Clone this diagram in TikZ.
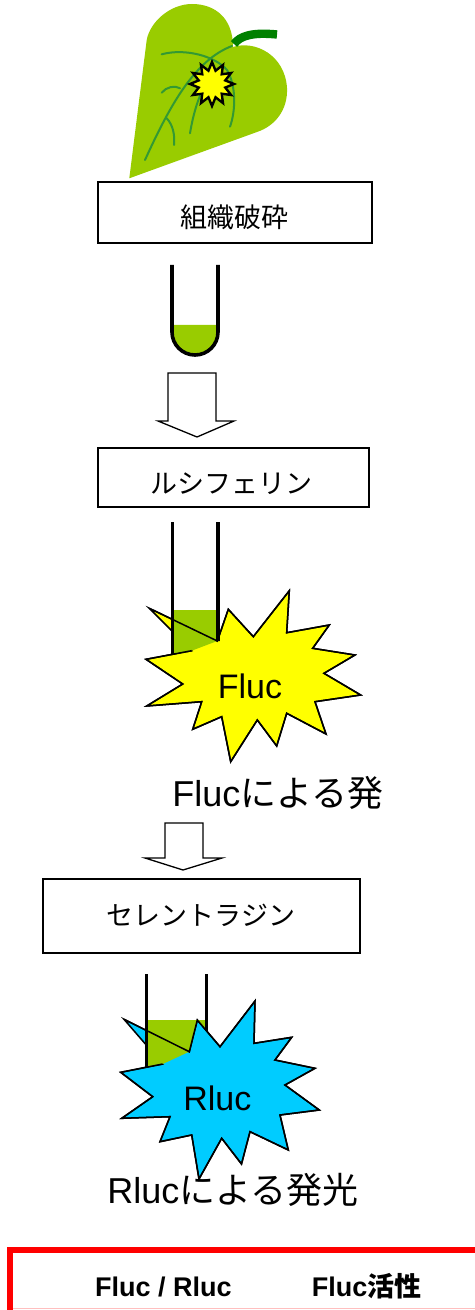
\documentclass[tikz,border=0pt]{standalone}
\usepackage{fontspec}
\setmainfont{Liberation Sans}
\newfontfamily\jp{Noto Sans CJK JP}
\usetikzlibrary{shapes.geometric}
\definecolor{leafgreen}{HTML}{99CC00}
\definecolor{stemgreen}{HTML}{008000}
\definecolor{veingreen}{HTML}{339933}
\definecolor{glowyellow}{HTML}{FFFF00}
\definecolor{glowcyan}{HTML}{00CCFF}
\tikzset{>=stealth,
  stepbox/.style={draw, line width=1pt, inner sep=0pt},
  boxtext/.style={font=\jp\fontsize{13.5pt}{14pt}\selectfont},
  bigtext/.style={font=\fontsize{18pt}{19pt}\selectfont},
  tubewall/.style={line width=1.8pt},
  hollow/.style={draw, line width=0.65pt, fill=white, line join=miter},
  vein/.style={veingreen, line width=1pt, line cap=round},
  burst/.style={line width=0.75pt, line join=miter},
}
% outlines of the two flashes, spike tip first
\def\flucburst{(149.3,608.3) -- (217.3,641) -- (228.3,609.3) -- (253.3,636.7)
  -- (289.3,590.7) -- (286.7,632.7) -- (329.3,625) -- (312.7,648.3)
  -- (355,655) -- (324,673.3) -- (360.7,695) -- (315,701.7)
  -- (326,734) -- (286.7,713.3) -- (276.7,746) -- (257.3,720)
  -- (230.7,761.7) -- (221.7,716.7) -- (192.7,729.3) -- (201.7,701.7)
  -- (146.7,706) -- (182.7,684) -- (146,659.3) -- (191.7,650.7)}
\def\rlucburst{(124,1019.3) -- (189.3,1051.7) -- (197.3,1020) -- (220,1046.7)
  -- (255,1001) -- (254,1043.3) -- (291.7,1037.3) -- (275,1060)
  -- (315,1068.3) -- (285,1085) -- (319.3,1110) -- (280,1115)
  -- (288.3,1150) -- (250,1131.7) -- (241.5,1164) -- (221.7,1138.3)
  -- (199,1179) -- (191.7,1135) -- (160,1141.7) -- (170,1116.7)
  -- (121.7,1118.3) -- (152.7,1096.7) -- (120.7,1072.3) -- (162.7,1064)}

\begin{document}
\begin{tikzpicture}[x=0.5pt, y=-0.5pt]
    \useasboundingbox (0,0) rectangle (475,1310);
    % leaf with stem and veins
    \fill[leafgreen] (129.3,178.3) -- (146.7,40) .. controls (150,22) and (170,4) .. (192,4)
        .. controls (215,4) and (233,18) .. (233,47)
        .. controls (255,40) and (285,55) .. (287,88)
        .. controls (288,110) and (275,126) .. (257,132) -- cycle;
    \draw[stemgreen, line width=4.2pt] (234,44) .. controls (240,36) and (252,32) .. (277,34.5);
    \draw[vein] (145,160) .. controls (170,105) and (195,60) .. (232,46);
    \draw[vein] (161.7,54.3) .. controls (185,48) and (215,56) .. (227,70)
        .. controls (236,85) and (236,110) .. (230,126.7);
    \draw[vein] (161.7,92.7) .. controls (166,87) and (175,85) .. (180,88.3);
    \draw[vein] (166.7,118.3) .. controls (173,125) and (175,135) .. (174,145);
    \draw[vein] (190,133.3) .. controls (193,115) and (198,98) .. (205,85);
    \node[star, star points=12, star point ratio=1.6, draw, fill=glowyellow,
        line width=1.2pt, minimum size=22pt, inner sep=0pt] (spot) at (212,84) {};

    % first step
    \node[stepbox, minimum width=137pt, minimum height=30.5pt] (crush) at (235,212.5) {};
    \node[boxtext] (crushtxt) at (234.5,217) {組織破砕};
    \fill[leafgreen] (172,325) -- (172,332) arc[start angle=180, end angle=0, radius=23] -- (218,325) -- cycle;
    \draw[tubewall] (172,265) -- (172,332) arc[start angle=180, end angle=0, radius=23] -- (218,265);
    \draw[hollow] (168,373) -- (216,373) -- (216,421) -- (234,421) -- (197,437)
        -- (158,421) -- (168,421) -- cycle;

    % luciferin
    \node[stepbox, minimum width=135.5pt, minimum height=29.5pt] (lucif) at (233.5,477.5) {};
    \node[boxtext] (luciftxt) at (231,484) {ルシフェリン};
    \filldraw[burst, fill=glowyellow] \flucburst -- cycle;
    \begin{scope}
        \clip (171,500) -- (225,500) -- (225,641) -- (217.3,641) -- (191.7,650.7) -- (171,654.6) -- cycle;
        \fill[leafgreen] (172.5,610) rectangle (218,700);
        \draw[tubewall] (172.5,522) -- (172.5,700);
        \draw[tubewall] (218,522) -- (218,700);
    \end{scope}
    \draw[burst] \flucburst;
    \node[font=\fontsize{17pt}{18pt}\selectfont] (fluc) at (250,686) {Fluc};
    \node[bigtext, anchor=base west, inner sep=0pt] (flucglow) at (172,806) {Fluc{\jp による発}};
    \draw[hollow] (165,823) -- (203,823) -- (203,858) -- (222,858) -- (183,870)
        -- (145,858) -- (165,858) -- cycle;

    % coelenterazine
    \node[stepbox, minimum width=158.5pt, minimum height=37pt] (coel) at (201.5,916) {};
    \node[boxtext] (coeltxt) at (201,915) {セレントラジン};
    \filldraw[burst, fill=glowcyan] \rlucburst -- cycle;
    \begin{scope}
        \clip (145,960) -- (210,960) -- (210,1035) -- (197.3,1020) -- (189.3,1051.7)
            -- (162.7,1064) -- (145,1067.5) -- cycle;
        \fill[leafgreen] (146,1019.5) rectangle (206.5,1080);
        \draw[tubewall] (146,974) -- (146,1080);
        \draw[tubewall] (206.5,974) -- (206.5,1080);
    \end{scope}
    \draw[burst] \rlucburst;
    \node[font=\fontsize{17pt}{18pt}\selectfont] (rluc) at (217.4,1098.7) {Rluc};
    \node[bigtext, anchor=base west, inner sep=0pt] (rlucglow) at (107,1203) {Rluc{\jp による発光}};

    % result table
    \draw[red, line width=3pt] (10.3,1330) -- (10.3,1250.3) -- (490,1250.3);
    \draw[red!25, line width=0.5pt] (13,1308.8) -- (475,1308.8);
    \node[font=\bfseries\fontsize{13.5pt}{14pt}\selectfont, anchor=base] (ratio) at (163.3,1296) {Fluc / Rluc};
    \node[font=\bfseries\fontsize{13.5pt}{14pt}\selectfont, anchor=base] (activity) at (366.7,1296) {Fluc{\jp 活性}};
\end{tikzpicture}
\end{document}
